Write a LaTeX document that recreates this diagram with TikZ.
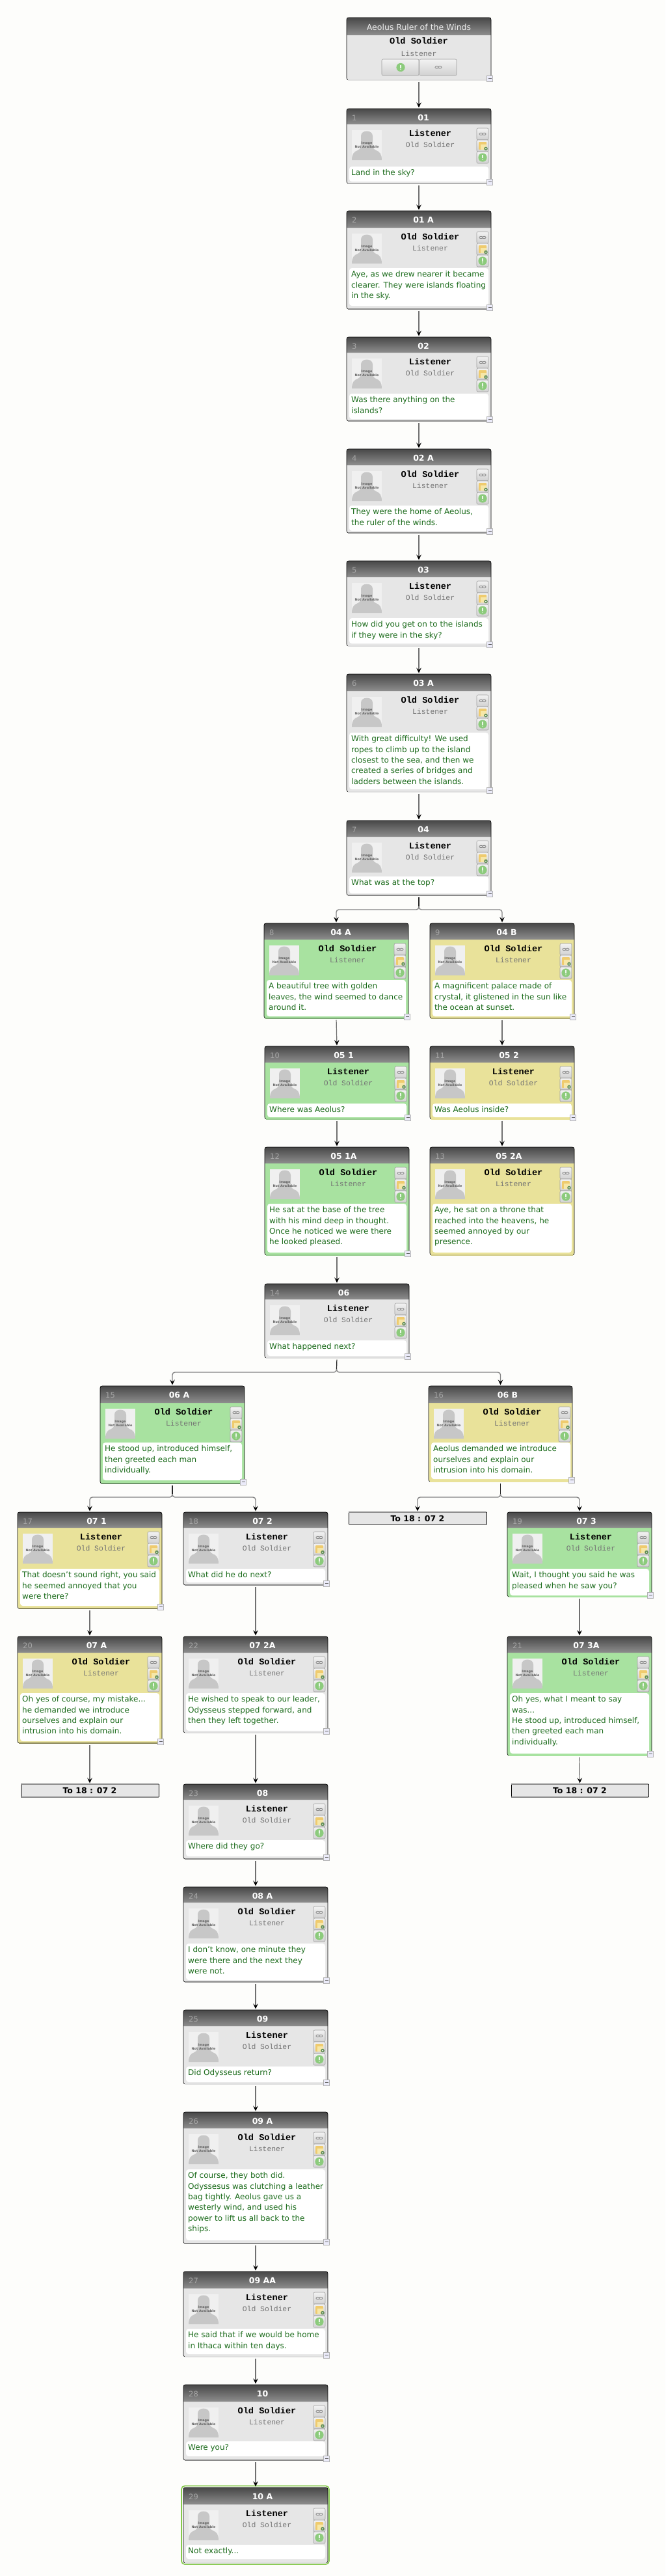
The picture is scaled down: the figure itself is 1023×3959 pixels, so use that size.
\documentclass[tikz,border=0pt]{standalone}
\usepackage{fontspec}
\setmainfont{DejaVu Sans}
\newfontfamily\spkfont{Liberation Mono}
\usetikzlibrary{arrows.meta,calc}
\definecolor{pagebg}{HTML}{FDFDFB}
\definecolor{cgray}{HTML}{E6E6E6}
\definecolor{cgreen}{HTML}{A8E2A0}
\definecolor{cyellow}{HTML}{E9E29A}
\definecolor{hdtop}{HTML}{484848}
\definecolor{hdbot}{HTML}{8E8E8E}
\definecolor{txtgreen}{HTML}{1B6B1B}
\definecolor{numgray}{HTML}{A6A6A6}
\definecolor{btmdark}{HTML}{8A8A8A}
\definecolor{btmlight}{HTML}{DEDEDE}
\definecolor{linegray}{HTML}{707070}
\definecolor{fold}{HTML}{EFCB6E}
\definecolor{foldl}{HTML}{F6E7A8}
\definecolor{gobtn}{HTML}{8CCB7C}
\tikzset{
  basebox/.style={rectangle,inner sep=0pt,outer sep=0pt},
  hdrtitle/.style={inner sep=0pt,text=white,font=\bfseries\fontsize{12.5}{14}\selectfont},
  hdrnum/.style={inner sep=0pt,anchor=west,text=numgray,font=\fontsize{11.5}{14}\selectfont},
  spkmain/.style={inner sep=0pt,text=black,font=\spkfont\bfseries\fontsize{13.6}{15}\selectfont},
  spksub/.style={inner sep=0pt,text=black!55,font=\spkfont\fontsize{11.4}{14}\selectfont},
  bodytxt/.style={inner sep=0pt,anchor=north west,align=left,text=txtgreen,font=\fontsize{12}{16.4}\selectfont},
  avtxt/.style={inner sep=0pt,text=black!62,font=\bfseries\fontsize{4.9}{5.5}\selectfont},
  edgeline/.style={draw=black,line width=0.6pt,rounded corners=3pt},
  conn/.style={draw=linegray,line width=1.2pt,-{Stealth[color=black,length=8pt,width=7.5pt,inset=3pt]},shorten <=2.5pt,shorten >=1.5pt},
  bus/.style={draw=linegray!85,line width=1.4pt,rounded corners=4pt,-{Stealth[color=black,length=8pt,width=7.5pt,inset=3pt]},shorten >=1.5pt},
  stem/.style={draw=black!85,line width=1.2pt,shorten <=2.5pt},
  btn/.style={draw=black!38,line width=0.6pt,rounded corners=2pt,top color=black!5,bottom color=black!18},
  refbox/.style={basebox,fill=cgray,text=black,font=\bfseries\fontsize{12.5}{14}\selectfont},
  collapse/.style={draw=black!30,fill=black!28!blue!8!white,line width=0.5pt},
}
\pgfkeys{/card/.cd,
  x/.store in=\cX, top/.store in=\cTop, hdr/.store in=\cHdr, wt/.store in=\cWt, wb/.store in=\cWb,
  bot/.store in=\cBot, w/.store in=\cW, bg/.store in=\cBg, num/.store in=\cNum, title/.store in=\cTitle,
  main/.store in=\cMain, sub/.store in=\cSub, text/.store in=\cText, btm/.store in=\cBtm, tc/.store in=\cTc,
  coll/.store in=\cColl,
  ql/.style={main=Listener,sub=Old Soldier},
  qo/.style={main=Old Soldier,sub=Listener}}
\newcommand{\iconlink}[2]{%
  \draw[black!45,line width=0.8pt,fill=black!12] (#1-2.4,#2) ellipse (2.7pt and 1.7pt);
  \draw[black!45,line width=0.8pt,fill=black!12] (#1+2.4,#2) ellipse (2.7pt and 1.7pt);}
\newcommand{\icongo}[2]{%
  \fill[gobtn] (#1,#2) circle (6.6pt);
  \fill[white,opacity=.85] (#1-0.8,#2-3.6) rectangle (#1+0.8,#2+1.4);
  \fill[white,opacity=.85] (#1,#2+3) circle (0.9pt);}
\newcommand{\btnstack}[2]{%
  \begin{scope}[shift={(#1,#2)}]
    \draw[btn] (0,0) rectangle (18,18);
    \iconlink{9}{9}
    \draw[btn] (0,18) rectangle (18,36);
    \fill[fold,rounded corners=1pt] (3,21) rectangle (15,33);
    \fill[foldl] (6,25) rectangle (15,33);
    \fill[gobtn!70!black] (14,31.5) circle (2.8pt);
    \fill[white] (14,31.5) circle (1pt);
    \draw[btn] (0,36) rectangle (18,54);
    \icongo{9}{45}
  \end{scope}}
\newcommand{\avatar}[3]{%
  \begin{scope}[shift={(#2,#3)}]
    \fill[black!6] (0,0) rectangle (46,46);
    \fill[black!22] (14,9) .. controls (14,-1) and (32,-1) .. (32,9) -- (32,20)
      .. controls (32,27) and (33,29) .. (37,31) .. controls (43,33) and (46,37) .. (46,46)
      -- (0,46) .. controls (0,37) and (3,33) .. (9,31) .. controls (13,29) and (14,27) .. (14,20) -- cycle;
    \node[avtxt] (#1-av1) at (23,20) {Image};
    \node[avtxt] (#1-av2) at (23,26) {Not Available};
  \end{scope}}
\newcommand{\card}[2]{%
  \pgfkeys{/card/.cd,w=222,bg=cgray,btm=btmdark,tc=121.5,coll=1,#2}%
  \pgfmathsetmacro\cR{\cX+\cW}%
  \pgfmathsetmacro\cH{\cBot-\cTop}%
  \node[basebox,fill=\cBg,minimum width=\cW pt,minimum height=\cH pt,rounded corners=3pt]
    (#1) at ({\cX+\cW/2},{(\cTop+\cBot)/2}) {};
  \shade[top color=hdtop,bottom color=hdbot] (\cX,\cHdr) -- (\cX,\cTop+4) .. controls (\cX,\cTop) .. (\cX+4,\cTop)
    -- (\cR-4,\cTop) .. controls (\cR,\cTop) .. (\cR,\cTop+4) -- (\cR,\cHdr) -- cycle;
  \fill[white,rounded corners=4pt] (\cX+4,\cWt) rectangle (\cX+218,\cWb);
  \draw[edgeline] (\cX,\cTop) rectangle (\cR,\cBot);
  \draw[\cBtm,line width=1.4pt] (\cX+2,\cBot) -- (\cR-2,\cBot);
  \node[hdrnum] (#1-num) at (\cX+8,\cTop+14) {\cNum};
  \node[hdrtitle] (#1-title) at (\cX+\cTc,\cTop+14) {\cTitle};
  \avatar{#1}{\cX+8}{\cHdr+9}
  \node[spkmain] (#1-main) at (\cX+128.5,\cHdr+14) {\cMain};
  \node[spksub] (#1-sub) at (\cX+128.5,\cHdr+31) {\cSub};
  \btnstack{\cX+200}{\cHdr+6}
  \node[bodytxt] (#1-text) at (\cX+7,\cWt+2) {\strut\cText};
  \ifnum\cColl=1
    \draw[collapse] (\cX+215.5,\cBot-7) rectangle (\cX+224.5,\cBot+2.5);
    \draw[black!60,line width=0.8pt] (\cX+217.5,\cBot-2.2) -- (\cX+222.5,\cBot-2.2);
  \fi
}
\newcommand{\refnode}[5]{% name x1 x2 y1 y2
  \node[refbox,minimum width=#3pt-#2pt,minimum height=#5pt-#4pt] (#1) at ({(#2+#3)/2},{(#4+#5)/2}) {To 18 : 07 2};
  \draw[black,line width=0.6pt] (#2,#4) -- (#2,#5) (#3,#4) -- (#3,#5);
  \draw[black!45,line width=1.1pt] (#2,#4) -- (#3,#4) (#2,#5) -- (#3,#5);
}
\begin{document}
\begin{tikzpicture}[x=1pt,y=-1pt]
\fill[pagebg] (0,0) rectangle (1023,3959);
\useasboundingbox (0,0) rectangle (1023,3959);

% title card
\node[basebox,fill=cgray,minimum width=222pt,minimum height=96pt,rounded corners=3pt] (n0) at (644,75) {};
\shade[top color=hdtop,bottom color=hdbot] (533,54) -- (533,31) .. controls (533,27) .. (537,27)
  -- (751,27) .. controls (755,27) .. (755,31) -- (755,54) -- cycle;
\draw[edgeline] (533,27) rectangle (755,123);
\draw[btmlight,line width=1.4pt] (535,123) -- (753,123);
\node[inner sep=0pt,text=black!8,font=\fontsize{12.5}{14}\selectfont] (n0-title) at (644,41.5) {Aeolus Ruler of the Winds};
\node[spkmain] (n0-main) at (644,63) {Old Soldier};
\node[spksub] (n0-sub) at (644,82) {Listener};
\draw[btn] (587,91) rectangle (644,116);
\draw[btn] (645,91) rectangle (702,116);
\icongo{616}{103.5}
\iconlink{674}{103.5}
\draw[collapse] (748.5,116) rectangle (757.5,125.5);
\draw[black!60,line width=0.8pt] (750.5,120.8) -- (755.5,120.8);

\card{n1}{x=533,top=167,hdr=191,wt=256,wb=279,bot=282,num=1,title=01,ql,tc=118,btm=btmlight!80!black,text={Land in the sky?}}
\card{n2}{x=533,top=324,hdr=350,wt=412,wb=470,bot=475,num=2,title=01 A,qo,tc=118,text={Aye, as we drew nearer it became\\clearer. They were islands floating\\in the sky.}}
\card{n3}{x=533,top=518,hdr=542,wt=605,wb=644,bot=647,num=3,title=02,ql,tc=118,text={Was there anything on the\\islands?}}
\card{n4}{x=533,top=690,hdr=715,wt=777,wb=816,bot=819,num=4,title=02 A,qo,tc=118,text={They were the home of Aeolus,\\the ruler of the winds.}}
\card{n5}{x=533,top=862,hdr=887,wt=950,wb=989,bot=993,num=5,title=03,ql,tc=118,btm=btmlight,text={How did you get on to the islands\\if they were in the sky?}}
\card{n6}{x=533,top=1036,hdr=1062,wt=1126,wb=1213,bot=1217,num=6,title=03 A,qo,tc=118,btm=btmlight,text={With great difficulty! We used\\ropes to climb up to the island\\closest to the sea, and then we\\created a series of bridges and\\ladders between the islands.}}
\card{n7}{x=533,top=1261,hdr=1286,wt=1347,wb=1373,bot=1376,num=7,title=04,ql,tc=118,text={What was at the top?}}
\card{n8}{x=406,top=1419,hdr=1444,wt=1506,wb=1562,bot=1565,num=8,title=04 A,qo,tc=118,bg=cgreen,btm=cgreen!75!black,text={A beautiful tree with golden\\leaves, the wind seemed to dance\\around it.}}
\card{n9}{x=661,top=1419,hdr=1444,wt=1506,wb=1562,bot=1565,num=9,title=04 B,qo,tc=118,bg=cyellow,btm=cyellow!75!black,text={A magnificent palace made of\\crystal, it glistened in the sun like\\the ocean at sunset.}}
\card{n10}{x=407,top=1608,hdr=1633,wt=1696,wb=1717,bot=1720,num=10,title=05 1,ql,bg=cgreen,btm=cgreen!90!black,text={Where was Aeolus?}}
\card{n11}{x=661,top=1608,hdr=1633,wt=1696,wb=1717,bot=1720,num=11,title=05 2,ql,bg=cyellow,btm=cyellow,text={Was Aeolus inside?}}
\card{n12}{x=407,top=1763,hdr=1788,wt=1850,wb=1925,bot=1929,num=12,title=05 1A,qo,bg=cgreen,btm=cgreen!90!black,text={He sat at the base of the tree\\with his mind deep in thought.\\Once he noticed we were there\\he looked pleased.}}
\card{n13}{x=661,top=1763,hdr=1788,wt=1850,wb=1925,bot=1929,num=13,title=05 2A,qo,bg=cyellow,btm=cyellow!90!black,coll=0,text={Aye, he sat on a throne that\\reached into the heavens, he\\seemed annoyed by our\\presence.}}
\card{n14}{x=407,top=1973,hdr=1997,wt=2060,wb=2084,bot=2087,num=14,title=06,ql,btm=btmlight,text={What happened next?}}
\card{n15}{x=154,top=2130,hdr=2156,wt=2217,wb=2275,bot=2280,num=15,title=06 A,qo,bg=cgreen,btm=cgreen!65!black,text={He stood up, introduced himself,\\then greeted each man\\individually.}}
\card{n16}{x=659,w=221,top=2130,hdr=2156,wt=2217,wb=2273,bot=2277,num=16,title=06 B,qo,bg=cyellow,btm=cyellow,text={Aeolus demanded we introduce\\ourselves and explain our\\intrusion into his domain.}}
\card{n17}{x=27,top=2324,hdr=2348,wt=2411,wb=2468,bot=2472,num=17,title=07 1,ql,bg=cyellow,btm=cyellow!60!black,text={That doesn't sound right, you said\\he seemed annoyed that you\\were there?}}
\card{n18}{x=282,top=2324,hdr=2348,wt=2411,wb=2432,bot=2436,num=18,title=07 2,ql,text={What did he do next?}}
\card{n19}{x=780,top=2324,hdr=2348,wt=2411,wb=2452,bot=2454,num=19,title=07 3,ql,bg=cgreen,btm=cgreen,text={Wait, I thought you said he was\\pleased when he saw you?}}
\card{n20}{x=27,top=2515,hdr=2540,wt=2602,wb=2676,bot=2679,num=20,title=07 A,qo,bg=cyellow,btm=cyellow!60!black,text={Oh yes of course, my mistake...\\he demanded we introduce\\ourselves and explain our\\intrusion into his domain.}}
\card{n21}{x=780,top=2515,hdr=2540,wt=2602,wb=2695,bot=2698,num=21,title=07 3A,qo,bg=cgreen,btm=cgreen,text={Oh yes, what I meant to say\\was...\\He stood up, introduced himself,\\then greeted each man\\individually.}}
\card{n22}{x=282,top=2515,hdr=2540,wt=2602,wb=2660,bot=2663,num=22,title=07 2A,qo,btm=btmlight,text={He wished to speak to our leader,\\Odysseus stepped forward, and\\then they left together.}}
\card{n23}{x=282,top=2742,hdr=2766,wt=2828,wb=2853,bot=2857,num=23,title=08,ql,text={Where did they go?}}
\card{n24}{x=282,top=2900,hdr=2924,wt=2987,wb=3043,bot=3046,num=24,title=08 A,qo,text={I don't know, one minute they\\were there and the next they\\were not.}}
\card{n25}{x=282,top=3089,hdr=3114,wt=3176,wb=3200,bot=3203,num=25,title=09,ql,btm=btmlight,text={Did Odysseus return?}}
\card{n26}{x=282,top=3246,hdr=3271,wt=3334,wb=3443,bot=3448,num=26,title=09 A,qo,text={Of course, they both did.\\Odyssesus was clutching a leather\\bag tightly. Aeolus gave us a\\westerly wind, and used his\\power to lift us all back to the\\ships.}}
\card{n27}{x=282,top=3491,hdr=3517,wt=3579,wb=3618,bot=3622,num=27,title=09 AA,ql,btm=btmlight,text={He said that if we would be home\\in Ithaca within ten days.}}
\card{n28}{x=282,top=3665,hdr=3691,wt=3752,wb=3775,bot=3781,num=28,title=10,qo,text={Were you?}}
\draw[green!55!yellow!70!black!70,line width=1.6pt,rounded corners=5pt] (279,3820.5) rectangle (506,3941);
\card{n29}{x=282,top=3823,hdr=3849,wt=3911,wb=3933,bot=3939,num=29,title=10 A,ql,btm=btmlight,coll=0,text={Not exactly...}}

\refnode{r16}{536}{748}{2324}{2343}
\refnode{r20}{32}{244}{2742}{2762}
\refnode{r21}{786}{997}{2742}{2762}

% straight connectors
\foreach \a/\b in {n0/n1,n1/n2,n2/n3,n3/n4,n4/n5,n5/n6,n6/n7,n8/n10,n9/n11,n10/n12,n11/n13,n12/n14,n17/n20,n18/n22,n19/n21,n20/r20,n21/r21,n22/n23,n23/n24,n24/n25,n25/n26,n26/n27,n27/n28,n28/n29}
  \draw[conn] (\a.south) -- (\b.north);

% branching connectors
\coordinate (b7) at (644,1398);   \coordinate (s7) at (644,1393);
\coordinate (b14) at (517.5,2109); \coordinate (s14) at (517.5,2104);
\coordinate (b15) at (265,2301);  \coordinate (s15) at (265,2296);
\coordinate (b16) at (769.5,2301); \coordinate (s16) at (769.5,2296);
\draw[bus] (s7) -- (b7) -| (n8.north);
\draw[bus] (s7) -- (b7) -| (n9.north);
\draw[stem] (n7.south) -- (s7);
\draw[bus] (s14) -- (b14) -| (n15.north);
\draw[bus] (s14) -- (b14) -| (n16.north);
\draw[stem] (n14.south) -- (s14);
\draw[bus] (s15) -- (b15) -| (n17.north);
\draw[bus] (s15) -- (b15) -| (n18.north);
\draw[stem] (n15.south) -- (s15);
\draw[bus] (s16) -- (b16) -| (r16.north);
\draw[bus] (s16) -- (b16) -| (n19.north);
\draw[stem] (n16.south) -- (s16);
\end{tikzpicture}
\end{document}
